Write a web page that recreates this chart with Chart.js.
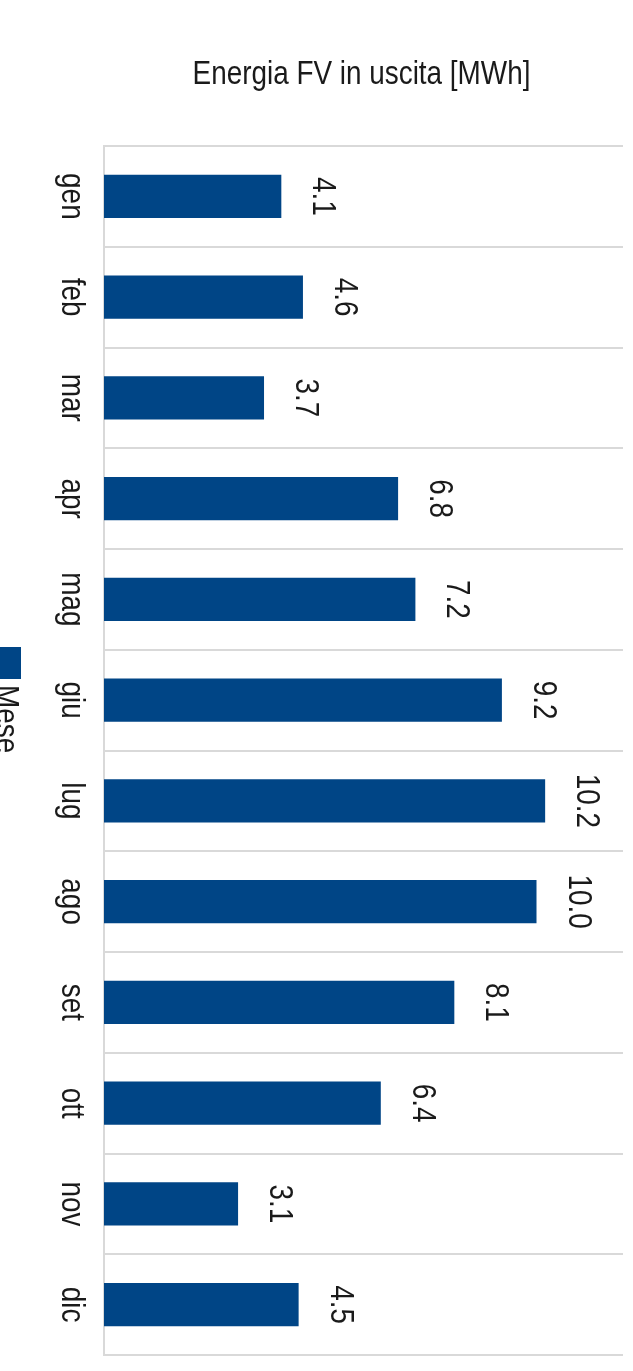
<!DOCTYPE html>
<html><head><meta charset="utf-8">
<script src="https://cdn.jsdelivr.net/npm/chart.js@4.4.0/dist/chart.umd.min.js"></script>
<style>html,body{margin:0;padding:0;background:#fff;overflow:hidden;} #wrap{width:633px;height:1371px;position:relative;}</style>
</head><body><div id="wrap"><canvas id="c" width="633" height="1371"></canvas></div>
<script>
// ---- data ----
const months = ['gen','feb','mar','apr','mag','giu','lug','ago','set','ott','nov','dic'];
const energyMWh = [4.1, 4.6, 3.7, 6.8, 7.2, 9.2, 10.2, 10.0, 8.1, 6.4, 3.1, 4.5];
const seriesName = 'Mese';
const chartTitle = 'Energia FV in uscita [MWh]';
const valueMin = 0;
const valueMax = 12;

// ---- style ----
const BAR = '#004586';
const GRID = '#d9d9d9';
const TEXT = '#1a1a1a';
const FONT = '"Liberation Sans", Arial, sans-serif';
const SQUEEZE = 0.82;
const FS = 34;

function rotText(ctx, text, x, y, align) {
  ctx.save();
  ctx.translate(x, y);
  ctx.rotate(Math.PI / 2);
  ctx.scale(SQUEEZE, 1);
  ctx.font = FS + 'px ' + FONT;
  ctx.textAlign = align;
  ctx.textBaseline = 'alphabetic';
  ctx.fillStyle = TEXT;
  ctx.fillText(text, 0, 0);
  ctx.restore();
}

const labelsPlugin = {
  id: 'rotLabels',
  afterDraw(chart) {
    const ctx = chart.ctx;
    const ca = chart.chartArea;
    const ys = chart.scales.y;
    // title
    ctx.save();
    ctx.translate((ca.left + ca.right) / 2 - 2, 84);
    ctx.scale(SQUEEZE, 1);
    ctx.font = FS + 'px ' + FONT;
    ctx.textAlign = 'center';
    ctx.textBaseline = 'alphabetic';
    ctx.fillStyle = TEXT;
    ctx.fillText(chartTitle, 0, 0);
    ctx.restore();
    // category labels
    chart.data.labels.forEach((lab, i) => {
      rotText(ctx, lab, ca.left - 42, ys.getPixelForValue(i), 'center');
    });
    // value labels
    const meta = chart.getDatasetMeta(0);
    meta.data.forEach((bar, i) => {
      const v = chart.data.datasets[0].data[i];
      rotText(ctx, v.toFixed(1), bar.x + 32, bar.y, 'center');
    });
    // legend
    ctx.save();
    ctx.fillStyle = BAR;
    ctx.fillRect(-11, 647, 32, 32);
    ctx.restore();
    rotText(ctx, chart.data.datasets[0].label, -4, 685, 'left');
  }
};

new Chart(document.getElementById('c'), {
  type: 'bar',
  data: {
    labels: months,
    datasets: [{
      label: seriesName,
      data: energyMWh,
      backgroundColor: BAR,
      borderWidth: 0,
      barPercentage: 0.43,
      categoryPercentage: 1.0
    }]
  },
  options: {
    indexAxis: 'y',
    responsive: false,
    animation: false,
    devicePixelRatio: 1,
    layout: { padding: { left: 104, right: 10, top: 146, bottom: 16 } },
    plugins: { legend: { display: false }, title: { display: false }, tooltip: { enabled: false } },
    scales: {
      x: { display: false, min: valueMin, max: valueMax },
      y: {
        display: true,
        ticks: { display: false },
        grid: { display: true, color: GRID, lineWidth: 2, drawTicks: false, offset: true },
        border: { display: true, color: GRID, width: 2 }
      }
    }
  },
  plugins: [labelsPlugin]
});
</script>
</body></html>
